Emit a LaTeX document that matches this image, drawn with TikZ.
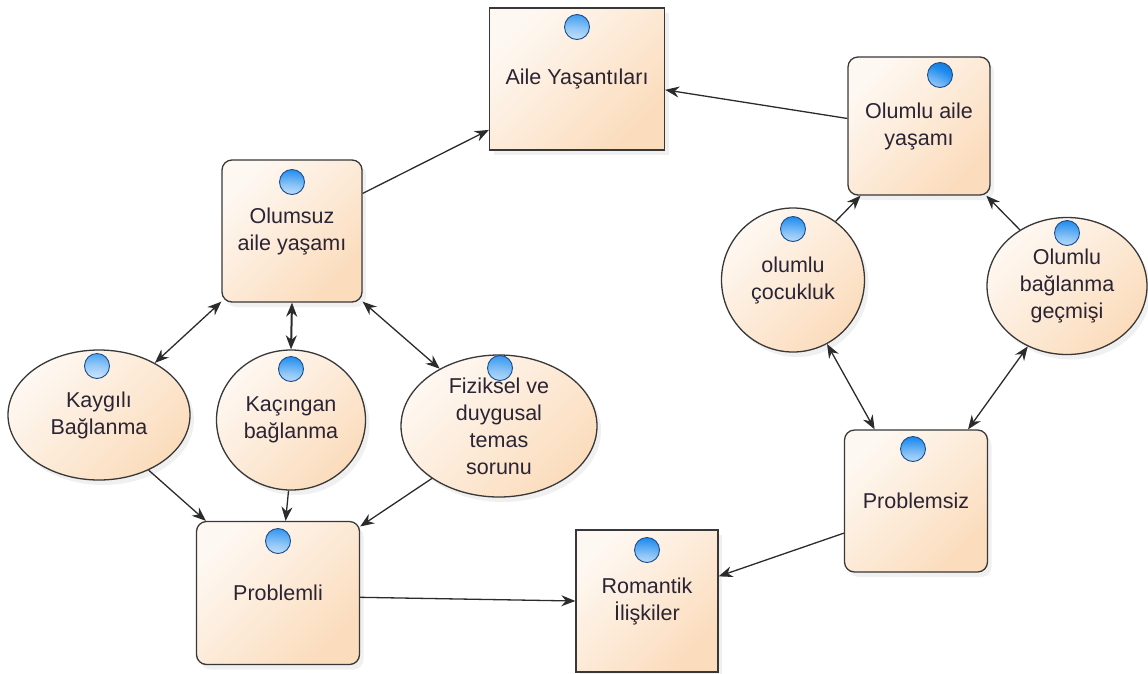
\documentclass[tikz,border=0pt]{standalone}
\usepackage{fontspec}
\setmainfont{Liberation Sans}
\usetikzlibrary{shapes.geometric, shadows, arrows.meta}
\definecolor{boxlight}{HTML}{FEF8F2}
\definecolor{boxdark}{HTML}{FBDCBC}
\definecolor{iconblue}{HTML}{1C8AEE}
\definecolor{iconedge}{HTML}{1A4C8C}
\definecolor{linkgray}{HTML}{2B2B2B}
\definecolor{txt}{HTML}{2A2434}
\pgfdeclareradialshading{iconball}{\pgfpoint{-1bp}{2bp}}{color(0bp)=(white); color(8bp)=(white);
	color(16bp)=(iconblue!50); color(22bp)=(iconblue); color(25bp)=(iconblue!70!iconedge); color(50bp)=(iconedge)}

\begin{document}
\begin{tikzpicture}[x=1pt, y=-1pt,
	every node/.style={font=\fontsize{21.5}{27}\selectfont, text=txt, align=center},
	base/.style={draw=black!78, line width=1.3pt, top color=boxlight, bottom color=boxdark,
		shading angle=45, inner sep=0pt,
		drop shadow={opacity=0.12, shadow xshift=4pt, shadow yshift=-5pt}},
	box/.style={base, rectangle},
	rbox/.style={base, rectangle, rounded corners=10pt},
	oval/.style={base, ellipse},
	icon/.style={path picture={
		\shade[shading=iconball] ([shift={(#1)}]path picture bounding box.center) circle (12.5pt);
		\draw[iconedge, line width=0.9pt] ([shift={(#1)}]path picture bounding box.center) circle (12.5pt);}},
	link/.style={draw=linkgray, line width=1.3pt, -{Stealth[length=14pt, width=11pt]}},
	both/.style={link, {Stealth[length=14pt, width=11pt]}-{Stealth[length=14pt, width=11pt]}}
	]
	\useasboundingbox (0,0) rectangle (1148,673);
	
	% boxes
	\node[box, icon={0,-52}, minimum width=175pt, minimum height=142pt] (aile) at (577,79) {Aile Yaşantıları};
	\node[rbox, icon={21,-51}, minimum width=142pt, minimum height=138pt] (olumlu) at (919,126) {Olumlu aile\\yaşamı};
	\node[rbox, icon={0,-49}, minimum width=140pt, minimum height=142pt] (olumsuz) at (292,231) {Olumsuz\\aile yaşamı};
	\node[rbox, icon={-3,-52}, minimum width=143pt, minimum height=142pt] (problemsiz) at (916,501) {Problemsiz};
	\node[rbox, icon={0,-52}, minimum width=163pt, minimum height=143pt] (problemli) at (278,593) {Problemli};
	\node[box, icon={0,-51}, minimum width=142pt, minimum height=142pt] (romantik) at (647,601) {Romantik\\İlişkiler};
	
	% ovals
	\node[oval, icon={-2,-49}, minimum width=182pt, minimum height=130pt] (kaygili) at (99,415) {Kaygılı\\Bağlanma};
	\node[oval, icon={0,-51}, minimum width=149pt, minimum height=140pt] (kacingan) at (291,420) {Kaçıngan\\bağlanma};
	\node[oval, icon={1,-58}, minimum width=196pt, minimum height=142pt] (fiziksel) at (499,426) {Fiziksel ve\\duygusal\\temas\\sorunu};
	\node[oval, icon={0,-51}, minimum width=143pt, minimum height=144pt] (cocukluk) at (793,280) {olumlu\\çocukluk};
	\node[oval, icon={0,-53}, minimum width=160pt, minimum height=137pt] (gecmis) at (1067,286) {Olumlu\\bağlanma\\geçmişi};
	
	% connectors
	\draw[link] (olumsuz.28) -- (aile.210);
	\draw[link] (olumlu.174) -- (aile.353);
	\draw[link] (cocukluk.54) -- (olumlu.230);
	\draw[link] (gecmis.130) -- (olumlu.314);
	\draw[both] (cocukluk.298) -- (problemsiz.120);
	\draw[both] (gecmis.237) -- (problemsiz.54);
	\draw[link] (problemsiz.204) -- (romantik.19);
	\draw[link] (problemli.357) -- (romantik.180);
	\draw[link] (kaygili.312) -- (problemli.135);
	\draw[link] (kacingan.268) -- (problemli.84);
	\draw[link] (fiziksel.218) -- (problemli.39);
	\draw[both] (olumsuz.225) -- (kaygili.43);
	\draw[both, line width=2pt] (olumsuz.270) -- (kacingan.90);
	\draw[both] (olumsuz.315) -- (fiziksel.136);
\end{tikzpicture}
\end{document}
